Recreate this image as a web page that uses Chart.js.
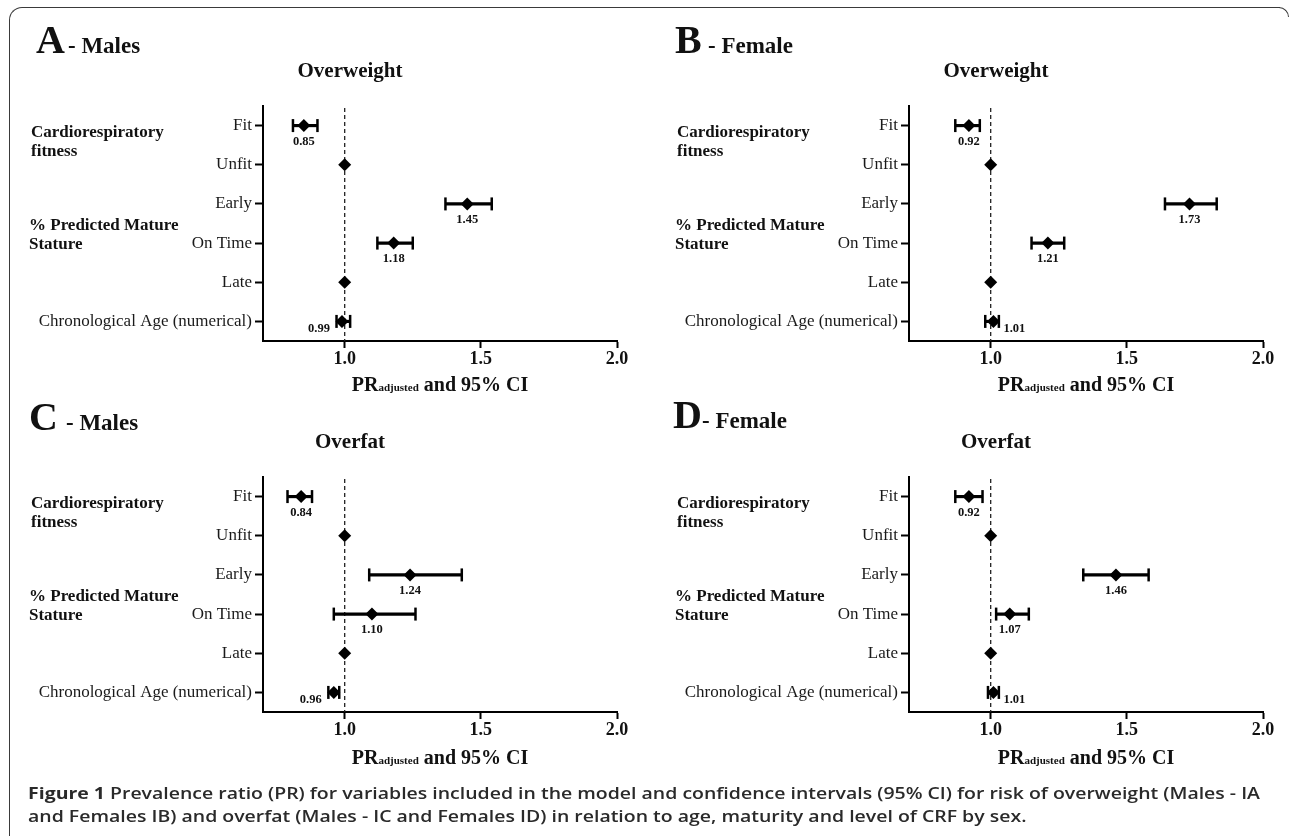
<!DOCTYPE html>
<html><head><meta charset="utf-8">
<script src="https://cdn.jsdelivr.net/npm/chart.js@4.4.1/dist/chart.umd.min.js"></script>
<style>
html,body{margin:0;padding:0;background:#fff;width:1292px;height:836px;overflow:hidden;position:relative}
.panel{position:absolute;width:646px;height:410px}
.frame{position:absolute;left:9px;top:7px;width:1270px;height:900px;border-top:1.5px solid #3a3a3a;border-left:1.5px solid #3a3a3a;border-top-left-radius:13px}
.corner{position:absolute;left:1277px;top:7px;width:11px;height:9px;border-top:1.5px solid #3a3a3a;border-right:1.5px solid #3a3a3a;border-top-right-radius:11px}
#caption{position:absolute;left:28px;top:781px;font-family:'Open Sans',sans-serif;font-size:16.5px;font-weight:600;color:#2a2a2a;line-height:23px;white-space:nowrap;transform-origin:0 0}
#caption b{font-weight:700}
</style></head>
<body>
<div class="frame"></div><div class="corner"></div>
<canvas id="cA" class="panel" width="646" height="410" style="left:0;top:0"></canvas>
<canvas id="cB" class="panel" width="646" height="410" style="left:646px;top:0"></canvas>
<canvas id="cC" class="panel" width="646" height="410" style="left:0;top:371px"></canvas>
<canvas id="cD" class="panel" width="646" height="410" style="left:646px;top:371px"></canvas>
<div id="caption"><span id="capLine1"><b>Figure 1</b> Prevalence ratio (PR) for variables included in the model and confidence intervals (95% CI) for risk of overweight (Males - IA</span><br>and Females IB) and overfat (Males - IC and Females ID) in relation to age, maturity and level of CRF by sex.</div>
<script>
// ---- data ----
const categories = ['Fit', 'Unfit', 'Early', 'On Time', 'Late', 'Chronological Age (numerical)'];
const xTickValues = [1.0, 1.5, 2.0];
const groupCardio = ['Cardiorespiratory', 'fitness'];
const groupMaturity = ['% Predicted Mature', 'Stature'];

const prA   = [0.85, 1.00, 1.45, 1.18, 1.00, 0.99];
const lowA  = [0.81, null, 1.37, 1.12, null, 0.97];
const highA = [0.90, null, 1.54, 1.25, null, 1.02];

const prB   = [0.92, 1.00, 1.73, 1.21, 1.00, 1.01];
const lowB  = [0.87, null, 1.64, 1.15, null, 0.98];
const highB = [0.96, null, 1.83, 1.27, null, 1.03];

const prC   = [0.84, 1.00, 1.24, 1.10, 1.00, 0.96];
const lowC  = [0.79, null, 1.09, 0.96, null, 0.94];
const highC = [0.88, null, 1.43, 1.26, null, 0.98];

const prD   = [0.92, 1.00, 1.46, 1.07, 1.00, 1.01];
const lowD  = [0.87, null, 1.34, 1.02, null, 0.99];
const highD = [0.97, null, 1.58, 1.14, null, 1.03];

const SERIF = "'Liberation Serif', 'Times New Roman', serif";

const forestPlugin = {
  id: 'forest',
  beforeDatasetsDraw(chart, args, o) {
    const {ctx, chartArea: ca, scales: {x}} = chart;
    const xr = x.getPixelForValue(1);
    ctx.save();
    ctx.strokeStyle = '#222'; ctx.lineWidth = 1.3; ctx.setLineDash([4, 3]);
    ctx.beginPath(); ctx.moveTo(xr, ca.top + 2); ctx.lineTo(xr, ca.bottom); ctx.stroke();
    ctx.restore();
  },
  afterDatasetsDraw(chart, args, o) {
    const {ctx, scales: {x, y}} = chart;
    ctx.save();
    ctx.strokeStyle = '#000'; ctx.lineWidth = 2.5;
    o.low.forEach((l, i) => {
      if (l == null) return;
      const yy = y.getPixelForValue(i);
      [l, o.high[i]].forEach(v => {
        const xx = x.getPixelForValue(v);
        ctx.beginPath(); ctx.moveTo(xx, yy - 6.5); ctx.lineTo(xx, yy + 6.5); ctx.stroke();
      });
    });
    ctx.fillStyle = '#111';
    ctx.font = 'bold 12.5px ' + SERIF;
    ctx.textBaseline = 'alphabetic';
    ctx.textAlign = 'center';
    const last = o.pr.length - 1;
    o.pr.forEach((v, i) => {
      if (o.low[i] == null) return;
      const xx = x.getPixelForValue(v), yy = y.getPixelForValue(i);
      const txt = v.toFixed(2);
      if (i === last) {
        ctx.fillText(txt, xx + (v < 1 ? -23 : 21), yy + 11);
      } else {
        ctx.fillText(txt, xx, yy + 19);
      }
    });
    ctx.restore();
  },
  afterDraw(chart, args, o) {
    const {ctx, chartArea: ca, scales: {y}} = chart;
    ctx.save();
    ctx.fillStyle = '#111';
    ctx.textBaseline = 'alphabetic';
    ctx.textAlign = 'left';
    ctx.font = 'bold 40px ' + SERIF;
    ctx.fillText(o.letter, o.letterX, o.letterY);
    ctx.font = 'bold 23px ' + SERIF;
    ctx.fillText(o.sex, o.sexX, o.letterY);
    ctx.textAlign = 'center';
    ctx.font = 'bold 21px ' + SERIF;
    ctx.fillText(o.outcome, 350, 77);
    ctx.textAlign = 'left';
    ctx.font = 'bold 17px ' + SERIF;
    const y0 = y.getPixelForValue(0);
    ctx.fillText(groupCardio[0], 31, y0 + 11);
    ctx.fillText(groupCardio[1], 31, y0 + 30);
    const y3 = y.getPixelForValue(3);
    ctx.fillText(groupMaturity[0], 29, y3 - 13);
    ctx.fillText(groupMaturity[1], 29, y3 + 6);
    const cx = (ca.left + ca.right) / 2;
    const big = 'bold 20px ' + SERIF, small = 'bold 11px ' + SERIF;
    ctx.font = big; const w1 = ctx.measureText('PR').width; const w3 = ctx.measureText(' and 95% CI').width;
    ctx.font = small; const w2 = ctx.measureText('adjusted').width;
    let sx = cx - (w1 + w2 + w3) / 2;
    const by = o.titleY;
    ctx.font = big; ctx.fillText('PR', sx, by); sx += w1;
    ctx.font = small; ctx.fillText('adjusted', sx, by); sx += w2;
    ctx.font = big; ctx.fillText(' and 95% CI', sx, by);
    ctx.restore();
  }
};

function makeChart(id, pr, low, high, opts) {
  return new Chart(document.getElementById(id), {
    type: 'bar',
    data: {
      labels: categories,
      datasets: [
        { type: 'bar', data: low.map((l, i) => l == null ? null : [l, high[i]]),
          backgroundColor: '#000', borderWidth: 0, barThickness: 2.5, order: 2 },
        { type: 'line', indexAxis: 'y', data: pr, showLine: false, pointStyle: 'rectRot',
          pointRadius: 6.5, pointBackgroundColor: '#000', pointBorderColor: '#000',
          pointBorderWidth: 0, order: 1, clip: false }
      ]
    },
    options: {
      indexAxis: 'y', responsive: false, animation: false,
      devicePixelRatio: 1,
      layout: { padding: { top: 106, right: 29, left: 0, bottom: 0 } },
      plugins: {
        legend: { display: false }, tooltip: { enabled: false },
        forest: Object.assign({ pr, low, high }, opts)
      },
      scales: {
        x: {
          type: 'linear', min: 0.7, max: 2.0,
          afterBuildTicks: s => { s.ticks = xTickValues.map(v => ({ value: v })); },
          afterFit: s => { s.height = 69; },
          ticks: { callback: v => Number(v).toFixed(1), color: '#111', padding: 1, maxRotation: 0,
                   font: { family: SERIF, size: 18, weight: 'bold' } },
          grid: { drawOnChartArea: false, drawTicks: true, tickLength: 7, tickWidth: 2, tickColor: '#000' },
          border: { display: true, color: '#000', width: 2 }
        },
        y: {
          type: 'category', offset: true,
          afterFit: s => { s.width = 263; },
          ticks: { color: '#1a1a1a', padding: 3, autoSkip: false, font: { family: SERIF, size: 17 } },
          grid: { drawOnChartArea: false, drawTicks: true, tickLength: 8, tickWidth: 2, tickColor: '#000', offset: false },
          border: { display: true, color: '#000', width: 2 }
        }
      }
    },
    plugins: [forestPlugin]
  });
}

makeChart('cA', prA, lowA, highA, { letter: 'A', sex: '- Males',  letterX: 36, sexX: 68, letterY: 53, outcome: 'Overweight', titleY: 391 });
makeChart('cB', prB, lowB, highB, { letter: 'B', sex: '- Female', letterX: 29, sexX: 62, letterY: 53, outcome: 'Overweight', titleY: 391 });
makeChart('cC', prC, lowC, highC, { letter: 'C', sex: '- Males',  letterX: 29, sexX: 66, letterY: 59, outcome: 'Overfat', titleY: 393 });
makeChart('cD', prD, lowD, highD, { letter: 'D', sex: '- Female', letterX: 27, sexX: 56, letterY: 57, outcome: 'Overfat', titleY: 393 });

// widen caption horizontally to match the reference's wider type
(function () {
  const w = document.getElementById('capLine1').getBoundingClientRect().width;
  if (w > 0) document.getElementById('caption').style.transform = 'scaleX(' + (1232 / w) + ')';
})();
</script>
</body></html>
